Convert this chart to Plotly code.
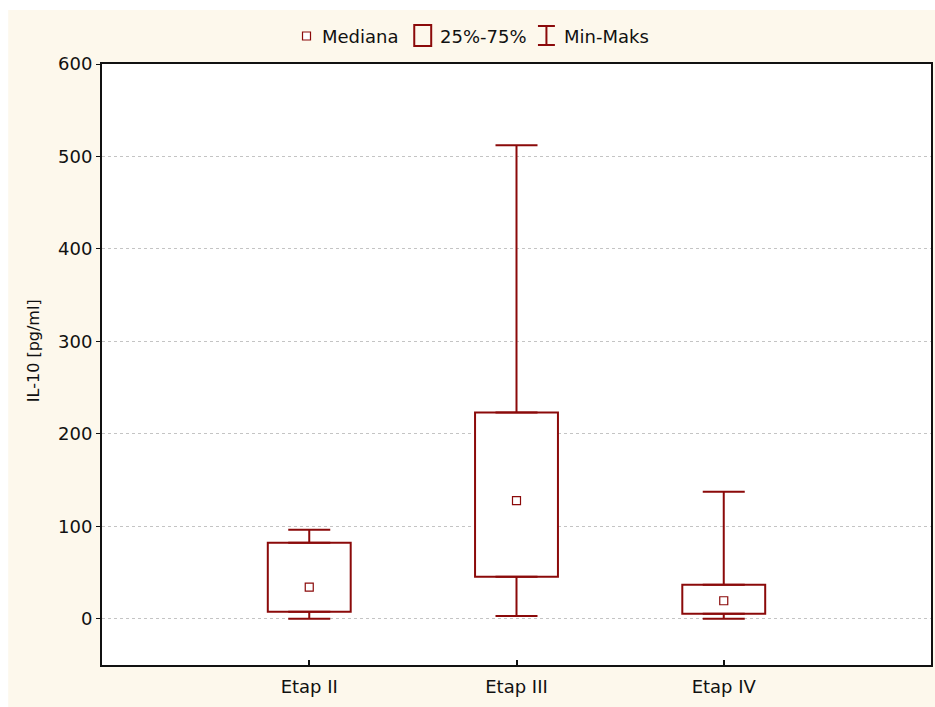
import plotly.graph_objects as go

categories = ["Etap II", "Etap III", "Etap IV"]
minimum = [0, 3, 0]
q1 = [7.6, 45.5, 5.4]
median = [34.3, 127.8, 19.5]
q3 = [82.3, 223, 36.8]
maximum = [96.4, 512, 137.5]

y_ticks = [0, 100, 200, 300, 400, 500, 600]
legend_labels = ["Mediana", "25%-75%", "Min-Maks"]

RED = "#8B0A0A"
CREAM = "#FDF8EC"
FONT = "DejaVu Sans, Liberation Sans, Arial, sans-serif"

W, H = 935, 707
ML, MR, MT, MB = 102, 2, 64, 42
PW, PH = W - ML - MR, H - MT - MB


def px(x):
    # page pixel x -> paper x
    return (x - ML) / PW


def py(y):
    # page pixel y -> paper y
    return (H - MB - y) / PH


fig = go.Figure()

# boxes (25%-75%)
fig.add_trace(go.Bar(
    x=categories,
    y=[b - a for a, b in zip(q1, q3)],
    base=q1,
    width=0.4,
    marker=dict(color="white", line=dict(color=RED, width=2)),
    showlegend=False,
    hoverinfo="skip",
))

# upper whiskers
fig.add_trace(go.Scatter(
    x=categories, y=q3, mode="markers",
    marker=dict(size=1, color="rgba(0,0,0,0)"),
    error_y=dict(type="data", symmetric=False,
                 array=[b - a for a, b in zip(q3, maximum)],
                 arrayminus=[0, 0, 0],
                 color=RED, thickness=2, width=21),
    showlegend=False, hoverinfo="skip",
))

# lower whiskers
fig.add_trace(go.Scatter(
    x=categories, y=q1, mode="markers",
    marker=dict(size=1, color="rgba(0,0,0,0)"),
    error_y=dict(type="data", symmetric=False,
                 array=[0, 0, 0],
                 arrayminus=[a - b for a, b in zip(q1, minimum)],
                 color=RED, thickness=2, width=21),
    showlegend=False, hoverinfo="skip",
))

# medians
fig.add_trace(go.Scatter(
    x=categories, y=median, mode="markers",
    marker=dict(symbol="square", size=8, color="white", line=dict(color=RED, width=1.2)),
    showlegend=False, hoverinfo="skip",
))

shapes = [
    # white page border around the cream panel (left and top)
    dict(type="rect", xref="paper", yref="paper", x0=px(-2), x1=px(8), y0=py(H + 2), y1=py(-2),
         fillcolor="white", line=dict(width=0), layer="below"),
    dict(type="rect", xref="paper", yref="paper", x0=px(-2), x1=px(W + 2), y0=py(10), y1=py(-2),
         fillcolor="white", line=dict(width=0), layer="below"),
    # legend symbols
    dict(type="rect", xref="paper", yref="paper", x0=px(303), x1=px(311), y0=py(40), y1=py(32),
         fillcolor="white", line=dict(color=RED, width=1.2)),
    dict(type="rect", xref="paper", yref="paper", x0=px(415), x1=px(432), y0=py(46), y1=py(25),
         fillcolor="rgba(0,0,0,0)", line=dict(color=RED, width=2)),
    dict(type="line", xref="paper", yref="paper", x0=px(547.5), x1=px(547.5), y0=py(45), y1=py(26),
         line=dict(color=RED, width=2)),
    dict(type="line", xref="paper", yref="paper", x0=px(539), x1=px(556), y0=py(26), y1=py(26),
         line=dict(color=RED, width=2)),
    dict(type="line", xref="paper", yref="paper", x0=px(539), x1=px(556), y0=py(45), y1=py(45),
         line=dict(color=RED, width=2)),
]

annotations = [
    dict(text="IL-10 [pg/ml]", xref="paper", yref="paper", x=px(33), y=py(351),
         textangle=-90, showarrow=False, font=dict(family=FONT, size=16, color="#111"),
         xanchor="center", yanchor="middle"),
]
for lbl, x0 in zip(legend_labels, [321, 439, 563]):
    annotations.append(dict(text=lbl, xref="paper", yref="paper", x=px(x0), y=py(36.5),
                            xanchor="left", yanchor="middle", showarrow=False,
                            font=dict(family=FONT, size=18, color="#111")))

fig.update_layout(
    width=W, height=H,
    margin=dict(l=ML, r=MR, t=MT, b=MB, pad=0),
    paper_bgcolor=CREAM,
    plot_bgcolor="white",
    font=dict(family=FONT, size=18, color="#111"),
    showlegend=False,
    hovermode=False,
    shapes=shapes,
    annotations=annotations,
    xaxis=dict(
        type="category", range=[-1, 3],
        showline=True, mirror=True, linecolor="#111", linewidth=2,
        ticks="inside", ticklen=5, tickcolor="#111", tickwidth=1.5,
        ticklabelstandoff=4,
        showgrid=False, zeroline=False,
        tickfont=dict(family=FONT, size=18, color="#111"),
    ),
    yaxis=dict(
        range=[-50, 600], tickvals=y_ticks,
        showline=True, mirror=True, linecolor="#111", linewidth=2,
        ticks="outside", ticklen=4, tickcolor="#111", tickwidth=1,
        showgrid=True, gridcolor="#c4c4c4", griddash="dot", gridwidth=1,
        zeroline=False,
        tickfont=dict(family=FONT, size=18, color="#111"),
    ),
    yaxis2=dict(
        overlaying="y", side="right", range=[-50, 600], tickvals=y_ticks,
        showticklabels=False, ticks="inside", ticklen=4, tickcolor="#111", tickwidth=1,
        showgrid=False, zeroline=False, showline=False,
    ),
)

fig.write_html(
    "out.html",
    config={"displayModeBar": False},
    post_script="document.body.style.margin='0';document.body.style.overflow='hidden';",
)
